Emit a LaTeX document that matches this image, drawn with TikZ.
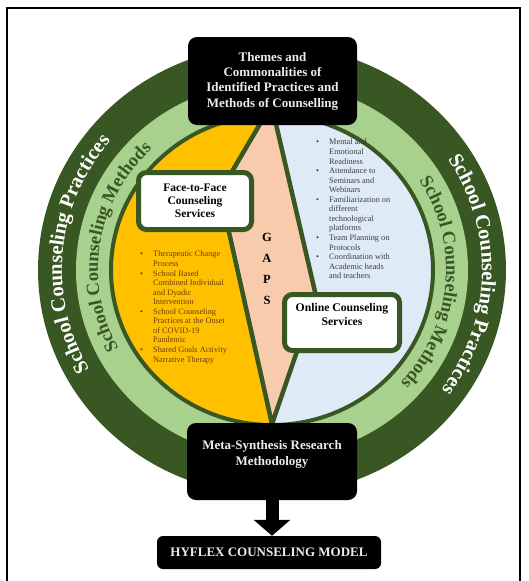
\documentclass[tikz,border=0pt]{standalone}
\usepackage{fontspec}
\setmainfont{Liberation Serif}
\usetikzlibrary{decorations.text, arrows.meta}
\definecolor{dkgreen}{RGB}{56,87,35}
\definecolor{ltgreen}{RGB}{169,209,142}
\definecolor{yellowf}{RGB}{255,192,0}
\definecolor{peachf}{RGB}{248,203,173}
\definecolor{bluef}{RGB}{222,235,247}
\definecolor{boxtext}{RGB}{236,236,236}
\definecolor{brownt}{RGB}{110,62,10}
\definecolor{greyt}{RGB}{60,60,60}
\newcommand\bul{\makebox[13pt][l]{\textbullet}}
\newcommand\ind{\hspace*{13pt}}
\begin{document}
\begin{tikzpicture}[x=1pt,y=1pt,
  blackbox/.style={fill=black, rounded corners=9pt, text=boxtext, align=center, inner sep=0pt, font=\bfseries},
  greenbox/.style={fill=white, draw=dkgreen, line width=5pt, rounded corners=8pt, align=center, inner sep=0pt, font=\bfseries},
  listtext/.style={align=left, inner sep=0pt, anchor=north west, font=\fontsize{8.3}{9.55}\selectfont},
  kiteline/.style={draw=dkgreen, line width=4.5pt, line join=round}
]
\useasboundingbox (0,0) rectangle (528,-581);
\fill[white] (0,0) rectangle (528,-581);
\draw[line width=1.5pt] (7,-590) -- (7,-8) -- (520,-8) -- (520,-590);
\coordinate (C) at (272,-270);
% rings
\fill[dkgreen] (C) ellipse [x radius=234pt, y radius=225pt];
\fill[ltgreen] (C) ellipse [x radius=196pt, y radius=188pt];
% inner regions
\begin{scope}
  \clip (C) ellipse [x radius=161pt, y radius=155pt];
  \fill[yellowf] (60,-60) rectangle (480,-480);
  \fill[bluef] (273,-60) -- (276,-124) -- (316,-296) -- (272,-424) -- (272,-480) -- (480,-480) -- (480,-60) -- cycle;
  \fill[peachf] (268,-60) -- (260,-124) -- (220,-192) -- (272,-424) -- (316,-296) -- (276,-124) -- (273,-60) -- cycle;
  \path[kiteline] (264,-116) -- (260,-124) -- (220,-192) -- (272,-424) -- (316,-296) -- (276,-124) -- (278,-116);
\end{scope}
\draw[dkgreen, line width=4pt] (C) ellipse [x radius=161pt, y radius=155pt];
% ring texts
\path[decorate, decoration={text along path, text align=center, text color=white,
  text={|\fontsize{20.5}{20.5}\selectfont\bfseries|School Counseling Practices}}]
  (C) ++(235:210pt and 202pt) arc[start angle=235, end angle=115, x radius=210pt, y radius=202pt];
\path[decorate, decoration={text along path, text align=center, text color=white,
  text={|\fontsize{20.5}{20.5}\selectfont\bfseries|School Counseling Practices}}]
  (C) ++(59:210pt and 202pt) arc[start angle=59, end angle=-62, x radius=210pt, y radius=202pt];
\path[decorate, decoration={text along path, text align=center, text color=dkgreen,
  text={|\fontsize{18.5}{18.5}\selectfont\bfseries|School Counseling Methods}}]
  (C) ++(231:174pt and 167pt) arc[start angle=231, end angle=111, x radius=174pt, y radius=167pt];
\path[decorate, decoration={text along path, text align=center, text color=dkgreen,
  text={|\fontsize{18.5}{18.5}\selectfont\bfseries|School Counseling Methods}}]
  (C) ++(55:174pt and 167pt) arc[start angle=55, end angle=-65, x radius=174pt, y radius=167pt];
% boxes
\node[blackbox, minimum width=169pt, minimum height=88pt, font=\bfseries\fontsize{13}{15.3}\selectfont] (top) at (272.5,-81)
  {Themes and\\Commonalities of\\Identified Practices and\\Methods of Counselling};
\node[blackbox, minimum width=170pt, minimum height=77pt, font=\bfseries\fontsize{13}{16}\selectfont] (meta) at (272,-461.5)
  {Meta-Synthesis Research\\Methodology\\[2pt]};
\node[blackbox, rounded corners=6pt, minimum width=224pt, minimum height=33pt, font=\bfseries\fontsize{13}{15}\selectfont] (hyflex) at (269,-552.5)
  {HYFLEX COUNSELING MODEL};
\node[greenbox, minimum width=113pt, minimum height=57pt, font=\bfseries\fontsize{11.5}{13}\selectfont] (f2f) at (195,-201)
  {Face-to-Face\\Counseling\\Services};
\node[greenbox, minimum width=115pt, minimum height=56pt, font=\bfseries\fontsize{11.7}{14}\selectfont] (online) at (342,-322.5)
  {Online Counseling\\Services\\[3pt]};
\node[align=center, inner sep=0pt, font=\bfseries\fontsize{12.5}{21}\selectfont] (gaps) at (267,-268.5) {G\\A\\P\\S};
% lists
\node[listtext, text=brownt] (listA) at (140,-251)
  {\bul Therapeutic Change\\ \ind Process\\ \bul School Based\\ \ind Combined Individual\\ \ind and Dyadic\\ \ind Intervention\\
   \bul School Counseling\\ \ind Practices at the Onset\\ \ind of COVID-19\\ \ind Pandemic\\ \bul Shared Goals Activity\\ \bul Narrative Therapy};
\node[listtext, text=greyt] (listB) at (316,-139)
  {\bul Mental and\\ \ind Emotional\\ \ind Readiness\\ \bul Attendance to\\ \ind Seminars and\\ \ind Webinars\\
   \bul Familiarization on\\ \ind different\\ \ind technological\\ \ind platforms\\ \bul Team Planning on\\ \ind Protocols\\
   \bul Coordination with\\ \ind Academic heads\\ \ind and teachers};
% arrow
\draw[-{Triangle[width=36pt,length=16pt]}, line width=13pt] (meta.south) -- (meta.south |- hyflex.north);
\end{tikzpicture}
\end{document}
